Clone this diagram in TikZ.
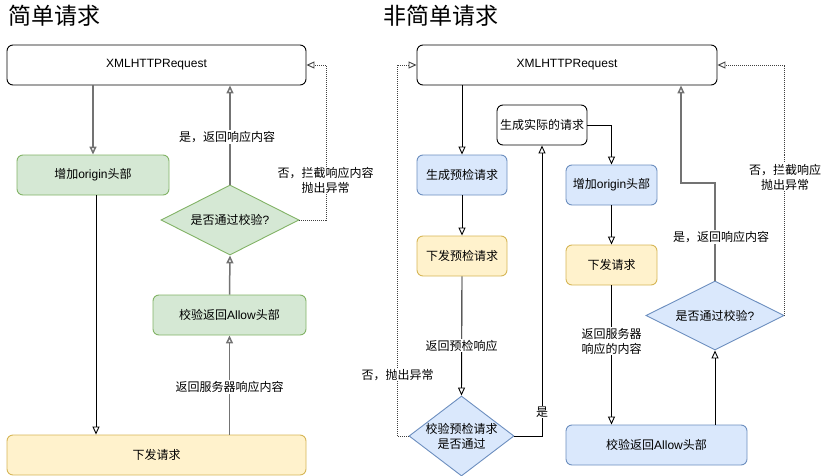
\documentclass[tikz,border=0pt]{standalone}
\usepackage{fontspec}
\setmainfont{Liberation Sans}
\newfontfamily\cjk{Noto Sans CJK SC}
\usetikzlibrary{arrows.meta,shapes.geometric}
\definecolor{gfill}{HTML}{D5E8D4}
\definecolor{gline}{HTML}{82B366}
\definecolor{bfill}{HTML}{DAE8FC}
\definecolor{bline}{HTML}{6C8EBF}
\definecolor{yfill}{HTML}{FFF2CC}
\definecolor{yline}{HTML}{D6B656}
\tikzset{
  basebox/.style={rounded corners=6pt, inner sep=0pt, align=center,
    font=\fontsize{12}{15}\selectfont, line width=0.9pt},
  whitebox/.style={basebox, draw=black, fill=white},
  greenbox/.style={basebox, draw=gline, fill=gfill},
  bluebox/.style={basebox, draw=bline, fill=bfill},
  yellowbox/.style={basebox, draw=yline, fill=yfill},
  dtext/.style={inner sep=0pt, align=center, font=\fontsize{12}{15}\selectfont},
  decide/.style={diamond, inner sep=0pt, line width=0.9pt},
  gdecide/.style={decide, draw=gline, fill=gfill},
  bdecide/.style={decide, draw=bline, fill=bfill},
  flow/.style={line width=0.9pt, draw=black, -{Triangle[open, length=8pt, width=7pt]}},
  grayflow/.style={flow, draw=black!55, line width=1.5pt},
  dotflow/.style={line width=0.8pt, draw=black!75, dash pattern=on 1pt off 1pt,
    -{Triangle[open, length=8pt, width=7pt, line width=0.9pt, sep=0pt]}},
  lbl/.style={fill=white, inner sep=1pt, align=center, font=\fontsize{12}{15}\selectfont\cjk},
  ttl/.style={font=\fontsize{23}{26}\selectfont\cjk, inner sep=0pt, anchor=west}
}
\begin{document}
\begin{tikzpicture}[x=1pt,y=-1pt]
\useasboundingbox (0,0) rectangle (821,476);

% titles
\node[ttl] (t1) at (8,16) {简单请求};
\node[ttl] (t2) at (383,16) {非简单请求};

% ---------------- left: simple request ----------------
\node[whitebox, minimum width=299pt, minimum height=40pt] (xmlL) at (156.5,65) {XMLHTTPRequest};
\node[greenbox, minimum width=152pt, minimum height=40pt] (originL) at (93,175) {{\cjk 增加}origin{\cjk 头部}};
\node[gdecide, minimum width=138pt, minimum height=70pt,
  label={[dtext]center:{\cjk 是否通过校验}?}] (chkL) at (230,220) {};
\node[greenbox, minimum width=153pt, minimum height=40pt] (allowL) at (229.5,315) {{\cjk 校验返回}Allow{\cjk 头部}};
\node[yellowbox, minimum width=299pt, minimum height=40pt] (sendL) at (156.5,455) {\cjk 下发请求};

\draw[grayflow] (originL.north |- xmlL.south) -- (originL.north);
\draw[flow] ([xshift=3pt]originL.south) -- ([xshift=3pt]originL.south |- sendL.north);
\draw[grayflow] (allowL.south |- sendL.north) -- (allowL.south)
  node[lbl, pos=0.48] (lb1) {返回服务器响应内容};
\draw[grayflow] (allowL.north) -- (chkL.south);
\draw[grayflow] (chkL.north) -- (chkL.north |- xmlL.south)
  node[lbl, pos=0.48, xshift=-3pt] (lb2) {是，返回响应内容};
\coordinate (dl) at (326,220);
\draw[dotflow] (chkL.east) -- (dl) |- (xmlL.east);
\node[lbl, inner sep=0.5pt] (lb3) at (325.5,180.5) {否，拦截响应内容\\抛出异常};

% ---------------- right: non-simple request ----------------
\node[whitebox, minimum width=300pt, minimum height=40pt] (xmlR) at (567,65) {XMLHTTPRequest};
\node[bluebox, minimum width=90pt, minimum height=40pt] (preR) at (462,175) {\cjk 生成预检请求};
\node[yellowbox, minimum width=90pt, minimum height=40pt] (sendPreR) at (462,256) {\cjk 下发预检请求};
\node[whitebox, minimum width=90pt, minimum height=40pt] (actualR) at (542,125) {\cjk 生成实际的请求};
\node[bluebox, minimum width=91pt, minimum height=40pt] (originR) at (611.5,185) {{\cjk 增加}origin{\cjk 头部}};
\node[yellowbox, minimum width=91pt, minimum height=40pt] (sendR) at (611.5,265) {\cjk 下发请求};
\node[bdecide, minimum width=105pt, minimum height=80pt,
  label={[dtext]center:{\cjk 校验预检请求}\\{\cjk 是否通过}}] (chkPreR) at (461.5,436) {};
\node[bluebox, minimum width=181pt, minimum height=40pt] (allowR) at (656.5,445) {{\cjk 校验返回}Allow{\cjk 头部}};
\node[bdecide, minimum width=138pt, minimum height=69pt,
  label={[dtext]center:{\cjk 是否通过校验}?}] (chkR) at (715,315.5) {};

\draw[flow] (preR.north |- xmlR.south) -- (preR.north);
\draw[flow] (preR.south) -- (sendPreR.north);
\draw[flow] (sendPreR.south) -- (chkPreR.north)
  node[lbl, pos=0.58] (lb4) {返回预检响应};
\draw[flow] (chkPreR.east) -- (actualR.south |- chkPreR.east) -- (actualR.south);
\node[lbl] (lb5) at (542,412) {是};
\draw[flow] (actualR.east) -| (originR.north);
\draw[flow] (originR.south) -- (sendR.north);
\draw[flow] (sendR.south) -- (sendR.south |- allowR.north)
  node[lbl, pos=0.4] (lb6) {返回服务器\\响应的内容};
\draw[flow] (chkR.south |- allowR.north) -- (chkR.south);
\coordinate (bendR) at (681,183);
\draw[grayflow] (chkR.north) |- (bendR) -- (bendR |- xmlR.south);
\node[lbl] (lb7) at (721,237) {是，返回响应内容};
\draw[dotflow] (chkR.east) -- (chkR.east |- xmlR.east) -- (xmlR.east);
\node[lbl, inner sep=0.5pt] (lb8) at (785,177) {否，拦截响应\\抛出异常};
\coordinate (dr) at (397,436);
\draw[dotflow] (chkPreR.west) -- (dr) |- (xmlR.west);
\node[lbl, inner sep=0.5pt] (lb9) at (397.5,375) {否，抛出异常};
\end{tikzpicture}
\end{document}
